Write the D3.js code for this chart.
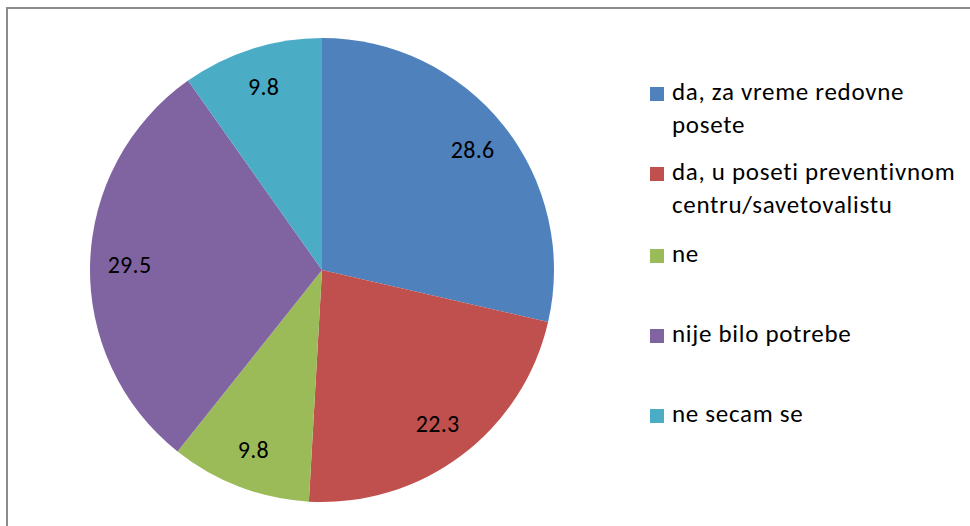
<!DOCTYPE html>
<html>
<head>
<meta charset="utf-8">
<script src="https://cdn.jsdelivr.net/npm/d3@7"></script>
<style>
  body { margin: 0; background: #fff; }
  text { font-family: Carlito, Lato, "Open Sans", sans-serif; fill: #000; }
</style>
</head>
<body>
<div id="chart"></div>
<script>
// data
var categories = ["da, za vreme redovne posete", "da, u poseti preventivnom centru/savetovalistu", "ne", "nije bilo potrebe", "ne secam se"];
var legendLines = [["da, za vreme redovne", "posete"], ["da, u poseti preventivnom", "centru/savetovalistu"], ["ne"], ["nije bilo potrebe"], ["ne secam se"]];
var values = [28.6, 22.3, 9.8, 29.5, 9.8];
var colors = ["#4F81BD", "#C0504D", "#9BBB59", "#8064A2", "#4BACC6"];

var width = 970;
var height = 526;

var svg = d3.select("#chart")
    .append("svg")
    .attr("width", width)
    .attr("height", height);

// frame of the chart area
svg.append("rect")
    .attr("x", 7)
    .attr("y", 8)
    .attr("width", width)
    .attr("height", height)
    .attr("fill", "none")
    .attr("stroke", "#8c8c8c")
    .attr("stroke-width", 2);

var cx = 322, cy = 270, r = 232;

var pie = d3.pie().sort(null).value(function (d) { return d; });
var arc = d3.arc().innerRadius(0).outerRadius(r);
var labelArc = d3.arc().innerRadius(r * 0.83).outerRadius(r * 0.83);

var g = svg.append("g").attr("transform", "translate(" + cx + "," + cy + ")");
var arcs = pie(values);

g.selectAll("path")
    .data(arcs)
    .enter()
    .append("path")
    .attr("d", arc)
    .attr("fill", function (d, i) { return colors[i]; });

g.selectAll("text.lbl")
    .data(arcs)
    .enter()
    .append("text")
    .attr("class", "lbl")
    .attr("transform", function (d) { return "translate(" + labelArc.centroid(d) + ")"; })
    .attr("text-anchor", "middle")
    .attr("dy", "0.35em")
    .style("font-size", "24px")
    .style("letter-spacing", "0.3px")
    .text(function (d) { return d.data.toFixed(1); });

// legend
var legendY = [100, 180, 262, 342, 422];
var leg = svg.append("g");
legendLines.forEach(function (lines, i) {
    leg.append("rect")
        .attr("x", 650)
        .attr("y", legendY[i] - 13)
        .attr("width", 14)
        .attr("height", 14)
        .attr("fill", colors[i]);
    var t = leg.append("text")
        .attr("x", 672)
        .attr("y", legendY[i])
        .style("font-size", "25px")
        .style("letter-spacing", "0.7px");
    lines.forEach(function (line, j) {
        t.append("tspan")
            .attr("x", 672)
            .attr("dy", j === 0 ? 0 : 33)
            .text(line);
    });
});
</script>
</body>
</html>
